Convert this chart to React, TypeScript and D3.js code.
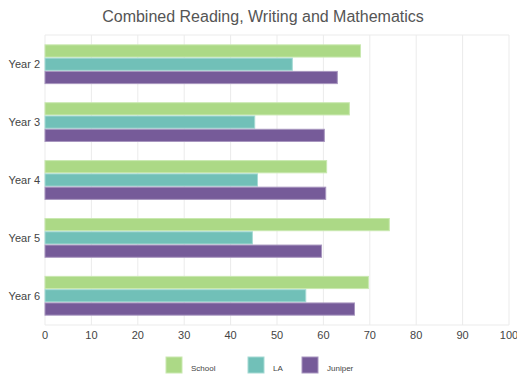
import React from "react";
import * as d3 from "d3";

const categories = ["Year 2", "Year 3", "Year 4", "Year 5", "Year 6"];
const seriesNames = ["School", "LA", "Juniper"];
const schoolValues = [68, 65.6, 60.7, 74.2, 69.7];
const laValues = [53.3, 45.2, 45.8, 44.7, 56.2];
const juniperValues = [63, 60.2, 60.5, 59.6, 66.7];
const xTicks = [0, 10, 20, 30, 40, 50, 60, 70, 80, 90, 100];

const colors = ["#acd986", "#71c0b8", "#765b99"];
const strokes = ["#c9e8b0", "#a6dad4", "#a896bf"];

export default function App() {
  const W = 517, H = 376;
  const left = 45, right = 509, top = 35, bottom = 325;
  const x = d3.scaleLinear().domain([0, 100]).range([left, right]);
  const y = d3.scaleBand().domain(categories).range([top, bottom]).paddingInner(0.33).paddingOuter(0.17);
  const inner = d3.scaleBand().domain(seriesNames).range([0, y.bandwidth()]).paddingInner(0.08);
  const series = [schoolValues, laValues, juniperValues];
  const font = "'Liberation Sans', Arial, sans-serif";
  return (
    <svg width={W} height={H} style={{ position: "absolute", left: 0, top: 0 }}>
      <rect width={W} height={H} fill="#fff" />
      <text x={263} y={22} textAnchor="middle" fontFamily={font} fontSize={16} fill="#555">
        Combined Reading, Writing and Mathematics
      </text>
      {xTicks.map((t) => (
        <line key={t} x1={x(t)} x2={x(t)} y1={top} y2={bottom} stroke="#ebebeb" strokeWidth={1} />
      ))}
      <line x1={left} x2={right} y1={top} y2={top} stroke="#ebebeb" />
      <line x1={left} x2={right} y1={bottom} y2={bottom} stroke="#ebebeb" />
      {categories.map((c, i) => (
        <g key={c}>
          {series.map((vals, s) => (
            <rect
              key={s}
              x={x(0)}
              y={(y(c) as number) + (inner(seriesNames[s]) as number)}
              width={x(vals[i]) - x(0)}
              height={inner.bandwidth()}
              fill={colors[s]}
              stroke={strokes[s]}
              strokeWidth={1}
            />
          ))}
          <text
            x={40}
            y={(y(c) as number) + y.bandwidth() / 2 + 4}
            textAnchor="end"
            fontFamily={font}
            fontSize={11}
            fill="#444"
          >
            {c}
          </text>
        </g>
      ))}
      {xTicks.map((t) => (
        <text key={t} x={x(t)} y={339} textAnchor="middle" fontFamily={font} fontSize={11} fill="#444">
          {t}
        </text>
      ))}
      {seriesNames.map((n, s) => {
        const lx = [166, 248, 302][s];
        return (
          <g key={n}>
            <rect x={lx} y={357} width={16} height={16} fill={colors[s]} stroke={strokes[s]} />
            <text x={lx + 25} y={371} fontFamily={font} fontSize={8} fill="#444">
              {n}
            </text>
          </g>
        );
      })}
    </svg>
  );
}
